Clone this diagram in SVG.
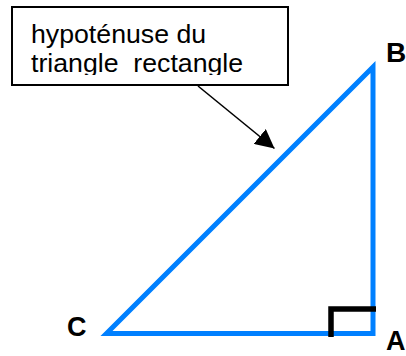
<svg xmlns="http://www.w3.org/2000/svg" width="406" height="356" viewBox="0 0 406 356">
<style>
.callout{fill:#ffffff;stroke:#000000;stroke-width:2}
.ctext{font-family:"Liberation Sans",Arial,sans-serif;font-size:26.7px;fill:#000000}
.lbl{font-family:"Liberation Sans",Arial,sans-serif;font-size:27px;font-weight:bold;fill:#000000}
.side{fill:none;stroke:#0080ff;stroke-width:5;stroke-linejoin:miter}
.rangle{fill:none;stroke:#000000;stroke-width:5.5;stroke-linecap:butt}
.arrow{fill:none;stroke:#000000;stroke-width:1.6}
</style>
<defs>
<marker id="ah" viewBox="0 0 20 20" refX="20" refY="10" markerWidth="19" markerHeight="19" markerUnits="userSpaceOnUse" orient="auto">
<path d="M0,0 L20,10 L0,20 z" fill="#000000"/>
</marker>
<clipPath id="tclip"><rect x="12" y="7" width="276" height="68"/></clipPath>
</defs>
<g id="triangle">
<polygon class="side" points="106.5,333.5 373,333.5 373,67"/>
<polyline class="rangle" points="331,337 331,309 376,309"/>
</g>
<g id="callout">
<rect class="callout" x="12" y="7" width="276" height="78"/>
<g clip-path="url(#tclip)">
<text class="ctext" x="31" y="43">hypoténuse du</text>
<text class="ctext" x="31" y="72" xml:space="preserve">triangle  rectangle</text>
</g>
</g>
<g id="label-B"><text class="lbl" x="386" y="62" style="font-size:28px">B</text></g>
<g id="label-C"><text class="lbl" x="67" y="336">C</text></g>
<g id="label-A"><text class="lbl" x="386" y="350">A</text></g>
<g id="connectors">
<line class="arrow" x1="198" y1="86" x2="274.5" y2="148.5" marker-end="url(#ah)"/>
</g>
</svg>
